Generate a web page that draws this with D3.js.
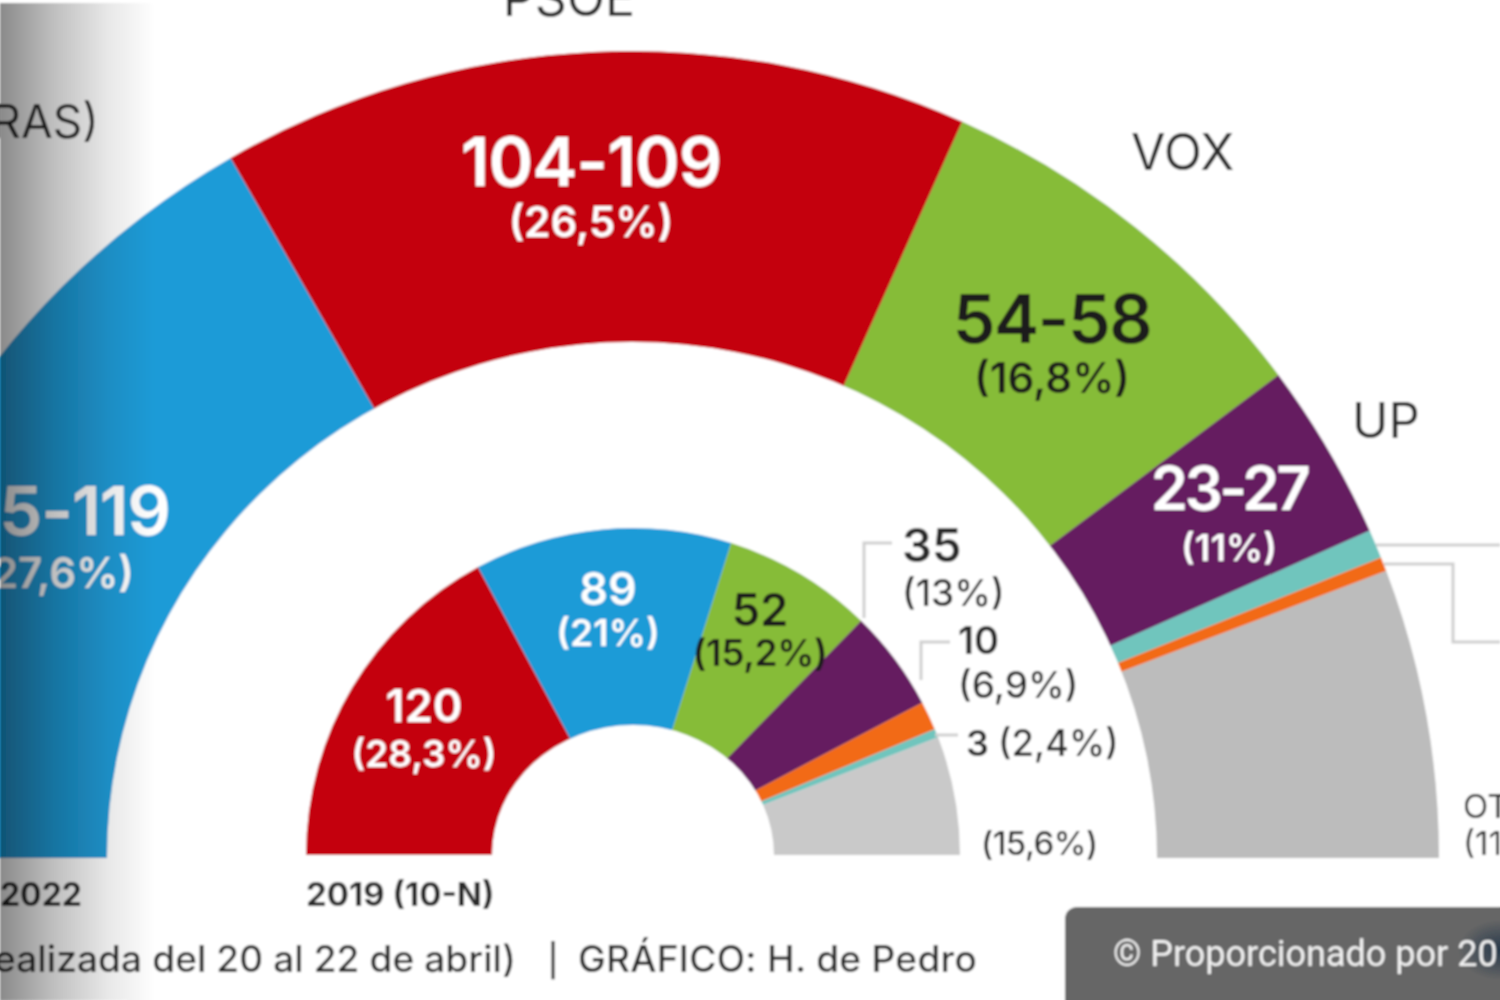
<!DOCTYPE html>
<html>
<head>
<meta charset="utf-8">
<script src="https://cdn.jsdelivr.net/npm/d3@7"></script>
<style>
  html, body { margin: 0; padding: 0; background: #fff; overflow: hidden; }
  text { font-family: Inter, Roboto, sans-serif; }
</style>
</head>
<body>
<div id="chart"></div>
<script>
// Seats; the published poll gives ranges
const parties2022 = ['PP', 'PSOE', 'VOX', 'UP', 'Cs', 'Mas', 'OTROS'];
const seats2022 = [117, 105, 56.5, 25, 4, 2, 40.5];
const parties2019 = ['PSOE', 'PP', 'VOX', 'UP', 'Mas', 'Cs', 'OTROS'];
const seats2019 = [120, 89, 52, 35, 10, 3, 41];

const partyNames = ['PP', 'PSOE', 'VOX', 'UP', 'Cs', 'Mas', 'OTROS'];
const partyColors = ['#1f9bd7', '#c4000f', '#86bc37', '#651c60', '#6fc5bd', '#f26a12', '#bcbcbc'];
const color = d3.scaleOrdinal(partyNames, partyColors);

const width = 1500, height = 1000;
const svg = d3.select('#chart').append('svg')
    .attr('width', width).attr('height', height)
    .style('display', 'block');

const defs = svg.append('defs');

// the source is a soft, upscaled screenshot
defs.append('filter').attr('id', 'soft')
    .attr('x', 0).attr('y', 0).attr('width', 1).attr('height', 1)
    .attr('filterUnits', 'objectBoundingBox')
    .append('feGaussianBlur').attr('stdDeviation', 1);

const edge = defs.append('linearGradient').attr('id', 'edgeShade');
edge.append('stop').attr('offset', '0%').attr('stop-color', '#000').attr('stop-opacity', 0.46);
edge.append('stop').attr('offset', '35%').attr('stop-color', '#000').attr('stop-opacity', 0.25);
edge.append('stop').attr('offset', '70%').attr('stop-color', '#000').attr('stop-opacity', 0.09);
edge.append('stop').attr('offset', '100%').attr('stop-color', '#000').attr('stop-opacity', 0);

const spot = defs.append('radialGradient').attr('id', 'cornerSpot');
spot.append('stop').attr('offset', '0%').attr('stop-color', '#1f3347').attr('stop-opacity', 0.9);
spot.append('stop').attr('offset', '100%').attr('stop-color', '#1f3347').attr('stop-opacity', 0);

const root = svg.append('g').attr('filter', 'url(#soft)');
root.append('rect').attr('width', width).attr('height', height).attr('fill', '#fff');

const pie = d3.pie().sort(null).startAngle(-Math.PI / 2).endAngle(Math.PI / 2);

// The hole of each hemicycle is a little flatter than a circle, so the slices
// run under a white half ellipse instead of using the arc's inner radius
function drawHemicycle(parties, seats, cx, cy, holeX, holeY, r1, otherColor) {
    const arc = d3.arc().innerRadius(holeY * 0.8).outerRadius(r1);
    const g = root.append('g').attr('transform', `translate(${cx},${cy})`);
    g.selectAll('path')
        .data(pie(seats))
        .join('path')
        .attr('d', arc)
        .attr('fill', (d, i) => parties[i] === 'OTROS' ? otherColor : color(parties[i]));
    g.append('ellipse')
        .attr('rx', holeX).attr('ry', holeY)
        .attr('fill', '#fff');
}

drawHemicycle(parties2022, seats2022, 632, 858, 525, 516, 807, '#bcbcbc');
drawHemicycle(parties2019, seats2019, 633, 855, 141, 130, 327, '#c9c9c9');

// leader lines
const leaders = [
    [[1376, 545], [1500, 545]],
    [[1384, 564], [1453, 564], [1453, 642], [1500, 642]],
    [[864, 618], [864, 543], [892, 543]],
    [[921, 680], [921, 642], [950, 642]],
    [[935, 735], [958, 735]]
];
const line = d3.line();
root.selectAll('path.leader')
    .data(leaders)
    .join('path')
    .attr('class', 'leader')
    .attr('d', line)
    .attr('fill', 'none')
    .attr('stroke', '#cfcfcf')
    .attr('stroke-width', 3);

function label(x, y, txt, size, weight, fill, anchor, tracking) {
    return root.append('text')
        .attr('x', x).attr('y', y)
        .attr('font-size', size)
        .attr('font-weight', weight)
        .attr('fill', fill)
        .attr('text-anchor', anchor || 'middle')
        .attr('letter-spacing', tracking || 0)
        .text(txt);
}

const ink = '#2b2b2b';
const white = '#ffffff';

// party names
label(569, 16, 'PSOE', 50, 400, ink);
label(99, 138, 'CIFRAS)', 46, 400, ink, 'end');
label(1131, 170, 'VOX', 50, 400, ink, 'start');
label(1352, 438, 'UP', 49, 400, ink, 'start');
label(1463, 818, 'OTROS', 33, 400, ink, 'start');
label(1463, 855, '(11,1%)', 33, 400, ink, 'start');

// poll hemicycle
label(170, 535, '115-119', 68, 600, white, 'end', -1);
label(134, 588, '(27,6%)', 42, 600, white, 'end');
label(591, 186, '104-109', 68, 600, white, 'middle', -1);
label(591, 237, '(26,5%)', 42, 600, white);
label(1052, 343, '54-58', 68, 600, '#1f1f1f', 'middle', -1.5);
label(1052, 393, '(16,8%)', 42, 600, '#1f1f1f');
label(1229, 510, '23-27', 60, 600, white, 'middle', -3.5);
label(1229, 561, '(11%)', 37, 600, white);

// 2019 hemicycle
label(424, 722, '120', 45, 600, white);
label(424, 767, '(28,3%)', 37, 600, white);
label(608, 605, '89', 45, 600, white);
label(608, 646, '(21%)', 37, 600, white);
label(760, 626, '52', 45, 600, '#1f1f1f');
label(760, 666, '(15,2%)', 37, 600, '#1f1f1f', 'middle', -0.4);
label(902, 562, '35', 47, 600, ink, 'start');
label(902, 606, '(13%)', 37, 500, ink, 'start');
label(958, 654, '10', 38, 600, ink, 'start');
label(958, 698, '(6,9%)', 37, 500, ink, 'start');
label(966, 756, '3', 36, 600, ink, 'start');
label(998, 756, '(2,4%)', 36.5, 500, ink, 'start');
label(981, 855, '(15,6%)', 33, 500, ink, 'start', -0.5);

// footer
label(82, 906, '2022', 32, 700, ink, 'end');
label(306, 906, '2019 (10-N)', 33, 700, ink, 'start');
label(516, 972, 'Encuesta realizada del 20 al 22 de abril)', 37, 500, ink, 'end', 0.1);
label(553, 972, '|', 32, 500, ink);
label(578, 972, 'GRÁFICO: H. de Pedro', 37, 500, ink, 'start', 0.3);

// credit badge
root.append('rect').attr('x', 1065).attr('y', 907)
    .attr('width', 460).attr('height', 120).attr('rx', 12)
    .attr('fill', '#666666');
root.append('ellipse').attr('cx', 1500).attr('cy', 950)
    .attr('rx', 42).attr('ry', 30)
    .attr('fill', 'url(#cornerSpot)');
label(1113, 966, '© Proporcionado por 20 Minutos', 36, 400, '#f2f2f2', 'start')
    .style('font-family', 'Roboto, sans-serif');

// shaded left edge of the screenshot
root.append('rect').attr('x', 0).attr('y', 3)
    .attr('width', 155).attr('height', height)
    .attr('fill', 'url(#edgeShade)');
</script>
</body>
</html>
